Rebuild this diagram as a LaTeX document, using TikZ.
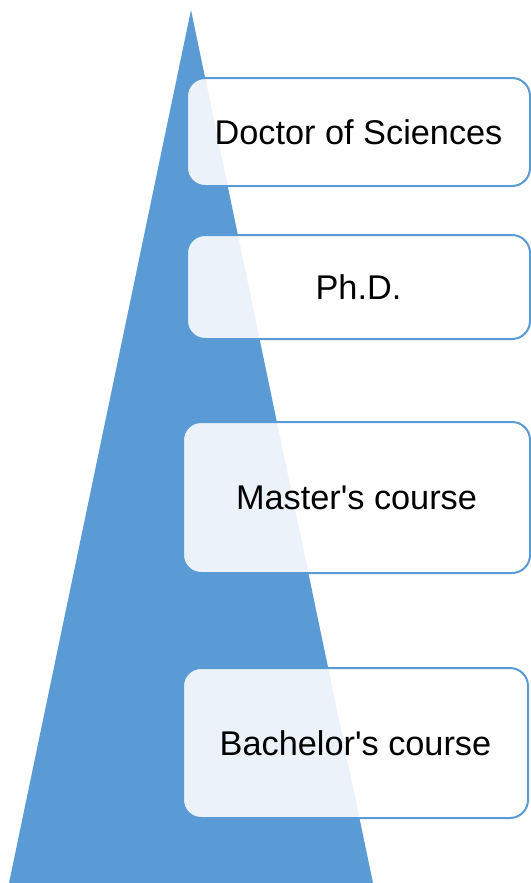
\documentclass[tikz,border=0pt]{standalone}
\usepackage{fontspec}
\setmainfont{Liberation Sans}
\usepackage{xcolor}
\usepackage{tikz}
\definecolor{stepblue}{HTML}{5B9BD5}
\tikzset{
  level/.style={draw=stepblue, line width=2pt, fill=white, fill opacity=0.88,
    text opacity=1, rounded corners=18pt, inner sep=0pt, anchor=north west,
    font=\fontsize{34.3}{40}\selectfont}
}

\begin{document}
\begin{tikzpicture}[x=1pt, y=-1pt]
  \useasboundingbox (0, 0) rectangle (530, 883);
  \fill[stepblue] (191, 10) -- (9, 883) -- (373, 883) -- cycle;

  \node[level, minimum width=343pt, minimum height=108pt] (doctor) at (186, 77) {Doctor of Sciences};
  \node[level, minimum width=343pt, minimum height=104pt] (phd) at (186, 234) {Ph.D.};
  \node[level, minimum width=347pt, minimum height=151pt] (master) at (182, 421) {Master\textquotesingle s course};
  \node[level, minimum width=345pt, minimum height=150pt] (bachelor) at (182, 667) {Bachelor\textquotesingle s course};

\end{tikzpicture}
\end{document}
